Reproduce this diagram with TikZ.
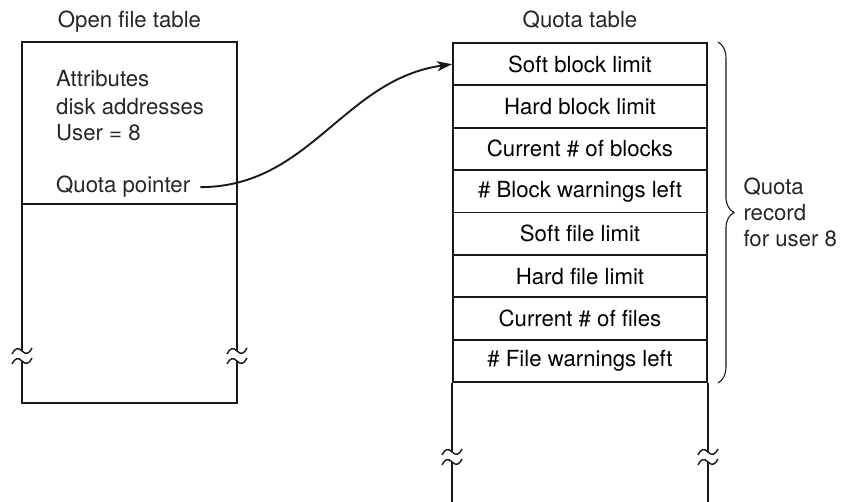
\documentclass[tikz,border=0pt]{standalone}
\usepackage{fontspec}
\setmainfont{TeX Gyre Heros}
\usetikzlibrary{positioning}
\usetikzlibrary{arrows.meta, decorations.pathreplacing}
\tikzset{tline/.style={line width=1.9pt, draw=black!90},
        qrow/.style={draw=black!90, line width=1.9pt, minimum width=254pt, minimum height=42.375pt, inner sep=0pt},
        txt/.style={inner sep=0pt, text=black!85},
        % two small waves, where a table is cut
        brk/.pic={\draw[line width=1.4pt, black!90] (-10,2) .. controls (-7,8) and (-4,9) .. (0,5) .. controls (4,1) and (7,2) .. (10,8);
                  \draw[line width=1.4pt, black!90] (-10,-8) .. controls (-7,-2) and (-4,-1) .. (0,-5) .. controls (4,-9) and (7,-8) .. (10,-2);}}

\begin{document}
\begin{tikzpicture}[x=1pt, y=1pt, font=\fontsize{22.2}{26}\selectfont]
    \useasboundingbox (0,0) rectangle (841,502);

    % Open file table
    \node[txt, anchor=base] (oft) at (129.5,474) {Open file table};
    \draw[tline] (22,151) -- (22,460) -- (237,460) -- (237,151);
    \draw[tline] (22,141) -- (22,99) -- (237,99) -- (237,141);
    \draw[tline] (22,298) -- (237,298);
    \pic at (22,146) {brk};
    \pic at (237,146) {brk};
    \foreach \t/\y [count=\i] in {Attributes/415, disk addresses/387, User = 8/361}
      \node[txt, anchor=base west] (attr\i) at (56,\y) {\t};
    \node[txt, anchor=base west] (qp) at (56,309) {Quota pointer};

    % Quota table
    \node[txt, anchor=base] (qt) at (580,474) {Quota table};
    \foreach \t [count=\i] in {Soft block limit, Hard block limit, Current \# of blocks, \# Block warnings left,
                               Soft file limit, Hard file limit, Current \# of files, \# File warnings left}
      \node[qrow] (q\i) at (580,{459-(\i-0.5)*42.375}) {\t};
    \foreach \s in {west, east} {
      \draw[tline] (q8.south \s) -- ([yshift=-69pt]q8.south \s) coordinate (b\s);
      \pic at ([yshift=-5pt]b\s) {brk};
      \draw[tline] ([yshift=-10pt]b\s) -- ([yshift=-125pt]b\s);
    }

    % Record brace
    \draw[decorate, decoration={brace, amplitude=16pt}, line width=1.1pt, black!90]
      ([xshift=10pt]q1.north east) -- ([xshift=10pt]q8.south east)
      node[txt, midway, anchor=west, xshift=25pt, align=left] (rec) {Quota\\record\\for user 8};

    % Pointer
    \draw[tline, -{Stealth[length=15pt, width=10pt, inset=4pt]}] ([xshift=10pt]qp.east) to[out=0, in=188] (q1.west);
\end{tikzpicture}
\end{document}
